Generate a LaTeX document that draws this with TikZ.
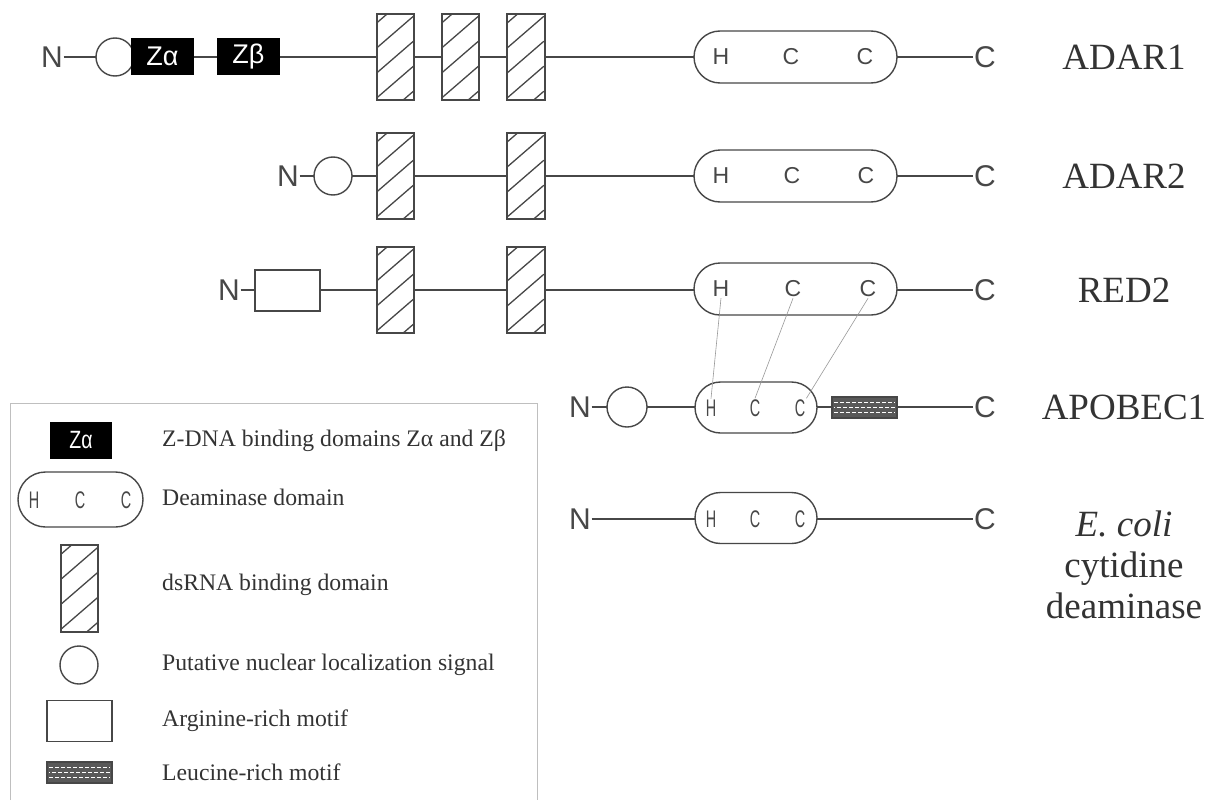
\documentclass[tikz,border=0pt]{standalone}
\usepackage{fontspec}
\usepackage{graphicx}
\setmainfont{Liberation Serif}
\newfontfamily\sansf{Liberation Sans}
\usetikzlibrary{calc,shapes.misc}
\colorlet{ink}{black!72}
\tikzset{
  backbone/.style={draw=ink, line width=1.8pt},
  term/.style={font=\sansf\fontsize{30}{32}\selectfont, text=ink, inner sep=0.5pt},
  nls/.style={circle, draw=ink, line width=1.4pt, fill=white, minimum size=38pt, inner sep=0pt},
  zbox/.style={fill=black, text=white, minimum width=63pt, minimum height=37pt, inner sep=0pt, font=\sansf\fontsize{27}{30}\selectfont},
  dsr/.style={draw=ink, line width=1.4pt, fill=white, minimum width=37pt, minimum height=86pt, inner sep=0pt},
  hatch/.style={draw=ink, line width=1.3pt},
  hcc/.style={rounded rectangle, draw=ink, line width=1.4pt, fill=white, minimum width=203pt, minimum height=52pt, inner sep=0pt},
  hccs/.style={rounded rectangle, draw=ink, line width=1.4pt, fill=white, minimum width=122pt, minimum height=51pt, inner sep=0pt},
  hl/.style={font=\sansf\fontsize{23}{25}\selectfont, text=ink, inner sep=1pt},
  hls/.style={font=\sansf\fontsize{24}{26}\selectfont, text=ink, inner sep=1pt},
  arg/.style={draw=ink, line width=1.4pt, fill=white, minimum width=65pt, minimum height=41pt, inner sep=0pt},
  leu/.style={draw=ink, line width=1.2pt, fill=black!65, minimum width=65pt, minimum height=21pt, inner sep=0pt},
  lab/.style={font=\fontsize{37}{41}\selectfont, text=black!80, inner sep=0pt, align=center},
  legtext/.style={font=\fontsize{23.7}{26}\selectfont, text=black!80, anchor=west, inner sep=0pt},
  link/.style={draw=black!40, line width=0.6pt},
  legframe/.style={draw=black!25, line width=1pt}
}
\newcommand\dsrbox[3]{%
  \node[dsr] (#1) at (#2,#3) {};
  \begin{scope}
    \clip (#1.north west) rectangle (#1.south east);
    \foreach \k in {0,...,4}
      \draw[hatch] ($(#1.north west)+(0,10+25*\k)$) -- ++(37,-32);
  \end{scope}
  \draw[draw=ink, line width=1.4pt] (#1.north west) rectangle (#1.south east);
}
\newcommand\leubox[3]{%
  \node[leu] (#1) at (#2,#3) {};
  \foreach \dy/\ph in {-5/0,0/3,5/0}
    \draw[white, line width=1.3pt, dash pattern=on 4pt off 2pt, dash phase=\ph pt]
      ($(#1.west)+(3,\dy)$) -- ($(#1.east)+(-3,\dy)$);
}
\newcommand\cnd[1]{\scalebox{0.6}[1]{#1}}
\begin{document}
\begin{tikzpicture}[x=1pt,y=-1pt]
\useasboundingbox[fill=white] (0,0) rectangle (1220,800);

% ---------- Row 1: ADAR1 ----------
\node[term] (n1) at (52,57) {N};
\node[term] (c1) at (985,57) {C};
\draw[backbone] (n1) -- (c1);
\node[nls] (nls1) at (115,57) {};
\node[zbox] (za1) at (162.5,56.5) {Zα};
\node[zbox] (zb1) at (248.5,56.5) {Zβ};
\dsrbox{d1a}{395.5}{57}
\dsrbox{d1b}{460.5}{57}
\dsrbox{d1c}{526}{57}
\node[hcc] (hc1) at (795.5,57) {};
\node[hl] (h1h) at (721,57) {H};
\node[hl] (h1c) at (791,57) {C};
\node[hl] (h1d) at (865,57) {C};
\node[lab] (l1) at (1124,57) {ADAR1};

% ---------- Row 2: ADAR2 ----------
\node[term] (n2) at (288,176) {N};
\node[term] (c2) at (985,176) {C};
\draw[backbone] (n2) -- (c2);
\node[nls] (nls2) at (333,176) {};
\dsrbox{d2a}{395.5}{176}
\dsrbox{d2b}{526}{176}
\node[hcc] (hc2) at (795.5,176) {};
\node[hl] (h2h) at (721,176) {H};
\node[hl] (h2c) at (792,176) {C};
\node[hl] (h2d) at (866,176) {C};
\node[lab] (l2) at (1124,176) {ADAR2};

% ---------- Row 3: RED2 ----------
\node[term] (n3) at (229,290) {N};
\node[term] (c3) at (985,290) {C};
\draw[backbone] (n3) -- (c3);
\node[arg] (ar3) at (287.5,290.5) {};
\dsrbox{d3a}{395.5}{290}
\dsrbox{d3b}{526}{290}
\node[hcc] (hc3) at (795.5,289) {};
\node[hl] (h3h) at (721,289) {H};
\node[hl] (h3c) at (793,289) {C};
\node[hl] (h3d) at (868,289) {C};
\node[lab] (l3) at (1124,290) {RED2};

% ---------- Row 4: APOBEC1 ----------
\node[term] (n4) at (580,407) {N};
\node[term] (c4) at (985,407) {C};
\draw[backbone] (n4) -- (c4);
\node[nls, minimum size=40pt] (nls4) at (627,407) {};
\node[hccs] (hc4) at (756,407.5) {};
\node[hls] (h4h) at (711,408) {\cnd{H}};
\node[hls] (h4c) at (755,408) {\cnd{C}};
\node[hls] (h4d) at (800,408) {\cnd{C}};
\leubox{lr4}{864.5}{407.5}
\node[lab] (l4) at (1124,407) {APOBEC1};

% links between RED2 and APOBEC1 residues
\draw[link] (h3h.south) -- (h4h.north);
\draw[link] (h3c.south) -- (h4c.north);
\draw[link] (h3d.south) -- (h4d.north east);

% ---------- Row 5: E. coli ----------
\node[term] (n5) at (580,519) {N};
\node[term] (c5) at (985,519) {C};
\draw[backbone] (n5) -- (c5);
\node[hccs] (hc5) at (756,518) {};
\node[hls] (h5h) at (711,519) {\cnd{H}};
\node[hls] (h5c) at (755,519) {\cnd{C}};
\node[hls] (h5d) at (800,519) {\cnd{C}};
\node[lab] (l5) at (1124,565) {\textit{E. coli}\\cytidine\\deaminase};

% ---------- Legend ----------
\draw[legframe] (10,800) -- (10,403) -- (537,403) -- (537,800);
\node[zbox, minimum width=62pt, font=\sansf\fontsize{25}{27}\selectfont] (lza) at (81,440.5) {\cnd{\scalebox{1.3}[1]{Zα}}};
\node[legtext] (t1) at (162,441) {Z-DNA binding domains Zα and Zβ};
\node[rounded rectangle, draw=ink, line width=1.4pt, fill=white, minimum width=125pt, minimum height=55pt, inner sep=0pt] (lhc) at (80.5,499.5) {};
\node[hls] (lhh) at (34,500) {\cnd{H}};
\node[hls] (lhc1) at (80,500) {\cnd{C}};
\node[hls] (lhc2) at (126,500) {\cnd{C}};
\node[legtext] (t2) at (162,497) {Deaminase domain};
\dsrbox{lds}{79.5}{588.5}
\node[legtext] (t3) at (162,585) {dsRNA binding domain};
\node[nls] (lnls) at (79,665) {};
\node[legtext] (t4) at (162,665) {Putative nuclear localization signal};
\node[arg] (larg) at (79.5,721) {};
\node[legtext] (t5) at (162,721) {Arginine-rich motif};
\leubox{lleu}{79.5}{772.5}
\node[legtext] (t6) at (162,772) {Leucine-rich motif};
\end{tikzpicture}
\end{document}
